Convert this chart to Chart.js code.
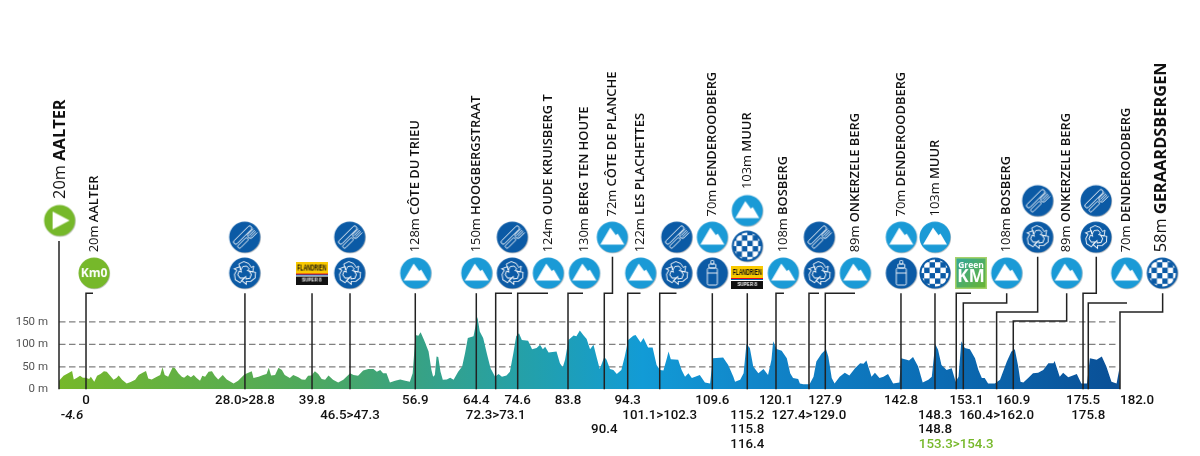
<!DOCTYPE html>
<html>
<head>
<meta charset="utf-8">
<title>Stage profile</title>
<script src="https://cdn.jsdelivr.net/npm/chart.js@4"></script>
<style>
  html, body { margin: 0; padding: 0; background: #fff; }
  canvas { display: block; }
</style>
</head>
<body>
<canvas id="profile" width="1200" height="456"></canvas>
<script>
// Route profile
const profileKm = [-4.6,-3.8,-3.0,-2.3,-2.0,-1.5,-0.9,-0.4,0.1,0.7,1.0,1.6,2.1,2.7,3.3,3.8,4.4,5.0,5.5,5.9,6.5,7.3,8.0,8.8,9.4,10.1,10.7,11.1,11.7,12.6,13.2,13.6,14.0,14.6,15.4,15.8,16.4,17.0,17.4,18.0,18.6,19.1,19.6,20.2,20.6,21.1,21.7,22.3,22.8,23.4,24.2,24.9,26.1,26.9,28.0,28.7,29.3,29.6,30.5,31.3,31.9,32.3,32.7,33.4,34.0,34.6,35.1,36.0,36.6,37.5,38.1,38.7,39.2,39.8,40.4,41.0,41.6,42.2,42.8,43.6,44.5,45.4,46.6,47.2,48.0,48.9,49.8,50.7,51.3,51.9,52.4,53.0,53.6,54.5,55.4,
  56.3,57.1,57.6,58.1,58.6,59.0,59.6,60.4,60.9,61.2,61.5,61.8,62.1,62.5,62.9,63.6,64.2,64.8,65.6,66.3,66.8,67.3,68.3,68.7,69.0,69.4,70.0,70.7,71.3,72.1,72.7,73.3,74.1,74.7,75.3,75.8,76.3,76.8,77.9,78.6,79.4,80.0,80.5,80.9,81.5,82.9,83.5,84.0,84.4,85.0,85.9,86.4,87.0,87.6,88.2,88.8,89.4,90.0,90.5,91.3,91.7,92.3,92.9,93.5,94.3,94.9,95.5,96.4,96.8,97.7,98.2,99.0,99.8,100.5,101.1,101.7,102.3,102.6,103.0,104.3,104.9,105.5,106.1,106.7,108.1,109.0,109.9,110.4,112.2,113.1,114.0,114.3,115.2,115.8,116.3,116.9,117.5,118.4,119.3,120.1,120.7,121.0,121.6,122.5,123.4,124.0,124.5,125.4,
  125.7,126.3,127.4,128.1,128.6,129.5,130.3,130.7,131.3,131.8,132.7,133.6,134.4,135.4,136.3,136.9,137.4,138.3,138.9,139.7,140.4,141.2,142.1,143.2,143.5,144.5,144.9,145.6,146.5,147.3,148.3,148.9,149.5,150.0,150.6,151.5,152.4,153.1,153.6,154.1,154.7,155.6,156.5,157.1,157.7,158.2,158.8,160.0,160.9,162.1,162.9,163.5,164.1,164.5,165.0,165.9,166.7,167.6,168.5,169.4,170.3,170.5,171.4,172.0,172.9,174.4,175.2,176.2,176.7,177.9,178.8,179.6,180.5,181.4,181.9,182.0];
const profileHeight = [19,30,36,41,22,25,30,26,26,23,28,17,30,34,40,39,30,21,25,31,21,13,16,21,32,37,41,24,22,28,32,49,32,28,49,47,36,28,26,32,27,32,25,19,30,28,39,40,30,22,32,22,13,19,33,37,40,25,28,32,34,48,31,32,48,43,32,25,32,27,22,21,30,31,40,34,23,21,31,21,15,21,36,32,30,42,45,45,39,43,36,36,15,19,22,
  19,17,36,121,119,127,110,84,43,28,32,73,72,39,21,22,26,21,39,51,80,114,118,144,161,129,114,77,47,28,34,28,31,39,80,118,125,110,108,89,92,99,89,95,82,84,58,49,66,110,120,118,131,121,112,89,99,69,45,72,66,45,43,34,43,73,110,119,121,104,114,93,93,54,43,42,69,84,67,66,43,28,36,25,32,15,13,69,71,54,28,17,21,36,101,92,51,36,45,32,66,107,90,86,69,36,25,23,
  13,11,11,28,62,79,89,73,25,13,28,37,31,47,58,57,64,28,37,25,28,34,13,15,69,66,64,72,51,15,21,28,101,88,54,43,47,17,28,107,92,89,69,43,25,25,13,13,21,62,84,89,51,17,15,26,36,37,43,58,58,63,28,37,27,34,13,13,69,66,73,51,17,13,47,47];

const yTicks = [0, 50, 100, 150];
const gridHeights = [50, 100, 150];
const gridKm = [-4.6, 181.6];

// Bottom axis: km labels, one list of rows per tick
const tickKm = [-2.3,0.15,28.1,39.9,46.58,58.06,68.79,72.2,76.07,84.92,91.3,95.42,101.05,110.3,116.45,121.5,127.3,130.17,143.48,149.46,153.2,155,160.3,163.23,175.5,176.42,185];
const tickRows = [['','-4.6'],['0'],['28.0>28.8'],['39.8'],['','46.5>47.3'],['56.9'],['64.4'],['','72.3>73.1'],['74.6'],['83.8'],['','','90.4'],['94.3'],['','101.1>102.3'],['109.6'],['','115.2','115.8','116.4'],['120.1'],['','127.4>129.0'],['127.9'],['142.8'],['','148.3','148.8'],['','','','153.3>154.3'],['153.1'],['','160.4>162.0'],['160.9'],['175.5'],['','175.8'],['182.0']];

// Leader lines: foot on the axis, height of the bend, then km and height of the top end
const leaderKm = [-4.6,0.15,28.1,39.9,46.58,58.06,68.79,72.2,76.07,84.92,91.3,95.42,101.05,110.3,116.45,121.5,127.3,130.17,143.48,149.46,153.2,154.44,160.3,163.23,175.5,176.42,182];
const leaderBend = [330,214,214,214,214,214,214,214,214,214,214,214,214,214,214,214,214,214,214,214,214,192,172,152,214,192,172];
const leaderEndKm = [-4.6,1.38,28.1,39.9,46.58,58.06,68.79,75.07,81.4,87.56,92.74,97.67,104,110.3,116.45,122.9,129.06,135.39,143.48,149.46,155.79,162.07,167.52,172.62,177.83,183.23,189.5];
const leaderTop = [330,214,214,214,214,214,214,214,214,214,295,214,214,214,214,214,214,214,214,214,214,214,295,214,295,192,214];

// Icons above the profile
const iconKm = [-4.5,1.56,28.06,28.06,39.84,46.53,46.53,58.13,68.86,75.12,75.12,81.45,87.79,92.71,97.7,104.04,104.04,110.3,110.3,116.45,116.45,116.45,122.78,129.11,129.11,135.44,143.53,143.53,149.46,149.46,155.79,162.07,167.52,167.52,172.62,177.78,177.78,183.17,189.44];
const iconHeight = [376,259,339,259,259,339,259,259,259,339,259,259,259,339,259,339,259,339,259,398,319,249,259,339,259,259,339,259,339,259,259,259,420,339,259,420,339,259,259];
const iconKind = ['start','km0','food','recycle','flandrien','food','recycle','climb','climb','food','recycle','climb','climb','climb','climb','food','recycle','climb','bottle','climb','finish','flandrien','climb','food','recycle','climb','climb','bottle','climb','finish','greenkm','climb','food','recycle','climb','food','recycle','climb','finish'];

// Rotated place names
const placeKm = [-4.45,1.56,58.13,68.86,81.45,87.79,92.71,97.7,110.3,116.45,122.78,135.44,143.53,149.46,162.07,172.62,183.17,189.35];
const placeHeight = [424,305,305,305,305,305,385,305,385,446,305,305,385,385,305,305,305,305];
const placeAltitude = ['20m','20m','128m','150m','124m','130m','72m','122m','70m','103m','108m','89m','70m','103m','108m','89m','70m','58m'];
const placeName = ['AALTER','AALTER','CÔTE DU TRIEU','HOOGBERGSTRAAT','OUDE KRUISBERG T','BERG TEN HOUTE','CÔTE DE PLANCHE','LES PLACHETTES','DENDEROODBERG','MUUR','BOSBERG','ONKERZELE BERG','DENDEROODBERG','MUUR','BOSBERG','ONKERZELE BERG','DENDEROODBERG','GERAARDSBERGEN'];
const placeMain = [true,false,false,false,false,false,false,false,false,false,false,false,false,false,false,false,false,true];

const blue = '#0b5aa5';
const sky = '#1a9ad6';
const green = '#76b82a';

function newIcon(w, h) {
  const c = document.createElement('canvas');
  c.width = w;
  c.height = h;
  return c;
}

function disc(color, drawInside) {
  const c = newIcon(36, 36);
  const g = c.getContext('2d');
  g.fillStyle = 'rgba(0,0,0,0.25)';
  g.beginPath();
  g.arc(18.5, 18.7, 15.6, 0, Math.PI * 2);
  g.fill();
  g.fillStyle = color;
  g.beginPath();
  g.arc(18, 18, 15.5, 0, Math.PI * 2);
  g.fill();
  g.translate(18, 18);
  g.fillStyle = '#fff';
  g.strokeStyle = '#fff';
  g.lineWidth = 0.9;
  drawInside(g);
  return c;
}

const icons = {
  climb: disc(sky, g => {
    g.beginPath();
    g.moveTo(-12, 7.5);
    g.lineTo(-2, -9.5);
    g.lineTo(3.5, -2);
    g.lineTo(5.5, -3.5);
    g.lineTo(12, 7.5);
    g.closePath();
    g.fill();
  }),
  start: disc(green, g => {
    g.beginPath();
    g.moveTo(-7, -9);
    g.lineTo(10, 0);
    g.lineTo(-7, 9);
    g.closePath();
    g.fill();
  }),
  km0: disc(green, g => {
    g.font = 'bold 12px "Open Sans"';
    g.textAlign = 'center';
    g.textBaseline = 'middle';
    g.fillText('Km0', 0, 0.5);
  }),
  food: disc(blue, g => {
    g.rotate(Math.PI / 4);
    // knife
    g.beginPath();
    g.roundRect(-5, -12, 4.2, 24, 2);
    g.stroke();
    // fork
    g.beginPath();
    g.roundRect(1.2, -1, 3.4, 13, 1.5);
    g.stroke();
    g.beginPath();
    g.moveTo(0.2, -12);
    g.lineTo(0.2, -4);
    g.quadraticCurveTo(2.9, -0.5, 5.6, -4);
    g.lineTo(5.6, -12);
    g.moveTo(2, -12);
    g.lineTo(2, -4);
    g.moveTo(3.8, -12);
    g.lineTo(3.8, -4);
    g.stroke();
  }),
  recycle: disc(blue, g => {
    for (let i = 0; i < 3; i++) {
      g.save();
      g.rotate(i * 2 * Math.PI / 3);
      g.beginPath();
      g.moveTo(-6, -9);
      g.lineTo(-1, -11.5);
      g.lineTo(4, -9.5);
      g.lineTo(6.5, -5.5);
      g.lineTo(9, -7);
      g.lineTo(8, -1);
      g.lineTo(2.5, -2.5);
      g.lineTo(4.5, -4);
      g.lineTo(2, -7);
      g.lineTo(-2, -6.5);
      g.lineTo(-4, -3);
      g.closePath();
      g.stroke();
      g.restore();
    }
  }),
  bottle: disc(blue, g => {
    g.beginPath();
    g.roundRect(-5, -5, 10, 17, 1.5);
    g.stroke();
    g.beginPath();
    g.roundRect(-3.5, -9, 7, 4, 1);
    g.stroke();
    g.beginPath();
    g.roundRect(-1.5, -12.5, 3, 3.5, 0.8);
    g.stroke();
    g.beginPath();
    g.moveTo(-5, 0);
    g.lineTo(5, 0);
    g.stroke();
  }),
  finish: disc(blue, g => {
    g.save();
    g.beginPath();
    g.arc(0, 0, 13.5, 0, Math.PI * 2);
    g.clip();
    const s = 5.4;
    for (let r = -3; r < 3; r++) {
      for (let k = -3; k < 3; k++) {
        if ((r + k + 6) % 2 === 0) g.fillRect(k * s, r * s, s, s);
      }
    }
    g.restore();
  })
};

// Flandrien sprint board
icons.flandrien = (function () {
  const c = newIcon(32, 23);
  const g = c.getContext('2d');
  g.fillStyle = '#f9c900';
  g.fillRect(0, 0, 32, 12);
  g.fillStyle = '#e2001a';
  g.fillRect(0, 12, 32, 1);
  g.fillStyle = '#0a6ab5';
  g.fillRect(0, 13, 32, 1);
  g.fillStyle = '#fff';
  g.fillRect(0, 14, 32, 1);
  g.fillStyle = '#111';
  g.fillRect(0, 15, 32, 8);
  g.textAlign = 'center';
  g.textBaseline = 'middle';
  g.font = 'bold 9px "Liberation Sans"';
  g.fillText('FLANDRIEN', 16, 6.5, 29);
  g.fillStyle = '#fff';
  g.font = 'bold 4.5px "Liberation Sans"';
  g.fillText('SUPER 8', 16, 19);
  return c;
})();

// Green KM board
icons.greenkm = (function () {
  const c = newIcon(32, 32);
  const g = c.getContext('2d');
  const fill = g.createLinearGradient(0, 0, 32, 32);
  fill.addColorStop(0, '#2fa6a0');
  fill.addColorStop(1, '#6cb52d');
  g.fillStyle = fill;
  g.fillRect(0, 0, 32, 32);
  g.strokeStyle = '#a6d26a';
  g.lineWidth = 1.5;
  g.strokeRect(0.75, 0.75, 30.5, 30.5);
  g.fillStyle = '#fff';
  g.textAlign = 'center';
  g.textBaseline = 'middle';
  g.font = 'bold 8.5px "Open Sans"';
  g.fillText('Green', 16, 8.5);
  g.font = 'bold 17px "Open Sans"';
  g.fillText('KM', 16, 20.5);
  return c;
})();

// Left to right colour of the profile
function profileFill(context) {
  const chart = context.chart;
  if (!chart.chartArea) return green;
  const x = chart.scales.x;
  const grad = chart.ctx.createLinearGradient(x.getPixelForValue(-4.6), 0, x.getPixelForValue(182), 0);
  grad.addColorStop(0, '#76b82a');
  grad.addColorStop(0.23, '#4fa95c');
  grad.addColorStop(0.34, '#37a285');
  grad.addColorStop(0.45, '#22a0ad');
  grad.addColorStop(0.55, '#129bd6');
  grad.addColorStop(0.66, '#1185c9');
  grad.addColorStop(0.82, '#0b6db5');
  grad.addColorStop(1, '#0a4f96');
  return grad;
}

// Names standing on their icons, turned a quarter
const placeNames = {
  id: 'placeNames',
  afterDatasetsDraw(chart) {
    const { ctx, scales } = chart;
    placeName.forEach((name, i) => {
      const size = placeMain[i] ? 16.4 : 12.9;
      const lightFont = `400 ${size}px "Open Sans"`;
      const nameFont = `${placeMain[i] ? 700 : 600} ${size}px "Open Sans"`;
      const alt = placeAltitude[i] + ' ';
      ctx.save();
      ctx.translate(scales.x.getPixelForValue(placeKm[i]), scales.y.getPixelForValue(placeHeight[i]));
      ctx.rotate(-Math.PI / 2);
      ctx.textAlign = 'left';
      ctx.textBaseline = 'middle';
      ctx.fillStyle = '#111';
      ctx.font = lightFont;
      ctx.fillText(alt, 0, 0);
      const w = ctx.measureText(alt).width;
      ctx.font = nameFont;
      ctx.fillText(name, w, 0);
      ctx.restore();
    });
  }
};

const datasets = [];

datasets.push({
  data: iconKm.map((km, i) => ({ x: km, y: iconHeight[i] })),
  showLine: false,
  pointStyle: iconKind.map(k => icons[k]),
  pointRadius: 10,
  pointBorderWidth: 0,
  clip: false,
  order: 0
});

leaderKm.forEach((km, i) => {
  datasets.push({
    data: [
      { x: km, y: 0 },
      { x: km, y: leaderBend[i] },
      { x: leaderEndKm[i], y: leaderBend[i] },
      { x: leaderEndKm[i], y: leaderTop[i] }
    ],
    borderColor: '#222',
    borderWidth: 1.5,
    pointRadius: 0,
    tension: 0,
    fill: false,
    clip: false,
    order: 1
  });
});

datasets.push({
  data: profileKm.map((km, i) => ({ x: km, y: profileHeight[i] })),
  borderWidth: 0,
  pointRadius: 0,
  tension: 0,
  fill: 'origin',
  backgroundColor: profileFill,
  order: 2
});

// dashes stay behind the profile
gridHeights.forEach(h => {
  datasets.push({
    data: gridKm.map(km => ({ x: km, y: h })),
    borderColor: '#808080',
    borderWidth: 1.2,
    borderDash: [6.5, 3.5],
    pointRadius: 0,
    fill: false,
    order: 3
  });
});

new Chart(document.getElementById('profile').getContext('2d'), {
  type: 'line',
  data: { datasets },
  plugins: [placeNames],
  options: {
    responsive: false,
    animation: false,
    devicePixelRatio: 1,
    layout: { padding: 0, autoPadding: false },
    plugins: { legend: { display: false }, tooltip: { enabled: false } },
    scales: {
      x: {
        type: 'linear',
        bounds: 'data',
        min: -4.6,
        max: 196.07,
        grid: { display: false, drawTicks: false },
        border: { display: false },
        afterBuildTicks: scale => { scale.ticks = tickKm.map(v => ({ value: v })); },
        afterFit: scale => {
          scale.height = 66.7;
          scale.paddingLeft = 0;
          scale.paddingRight = 0;
        },
        ticks: {
          autoSkip: false,
          maxRotation: 0,
          padding: 4,
          callback: (v, i) => tickRows[i],
          color: c => (tickRows[c.index] && tickRows[c.index][3] === '153.3>154.3' ? '#76b82a' : '#111'),
          font: c => ({
            family: 'Roboto',
            size: 13.3,
            weight: '500',
            lineHeight: 1.1,
            style: tickRows[c.index] && tickRows[c.index][1] === '-4.6' ? 'italic' : 'normal'
          })
        }
      },
      y: {
        bounds: 'data',
        min: 0,
        max: 867,
        grid: { display: false, drawTicks: false },
        border: { display: false },
        afterBuildTicks: scale => { scale.ticks = yTicks.map(v => ({ value: v })); },
        afterFit: scale => {
          scale.width = 59;
          scale.paddingTop = 0;
          scale.paddingBottom = 0;
        },
        ticks: {
          padding: 11,
          autoSkip: false,
          color: '#555',
          font: { family: 'Roboto', size: 11.5 },
          callback: v => v + ' m'
        }
      }
    }
  }
});
</script>
</body>
</html>
